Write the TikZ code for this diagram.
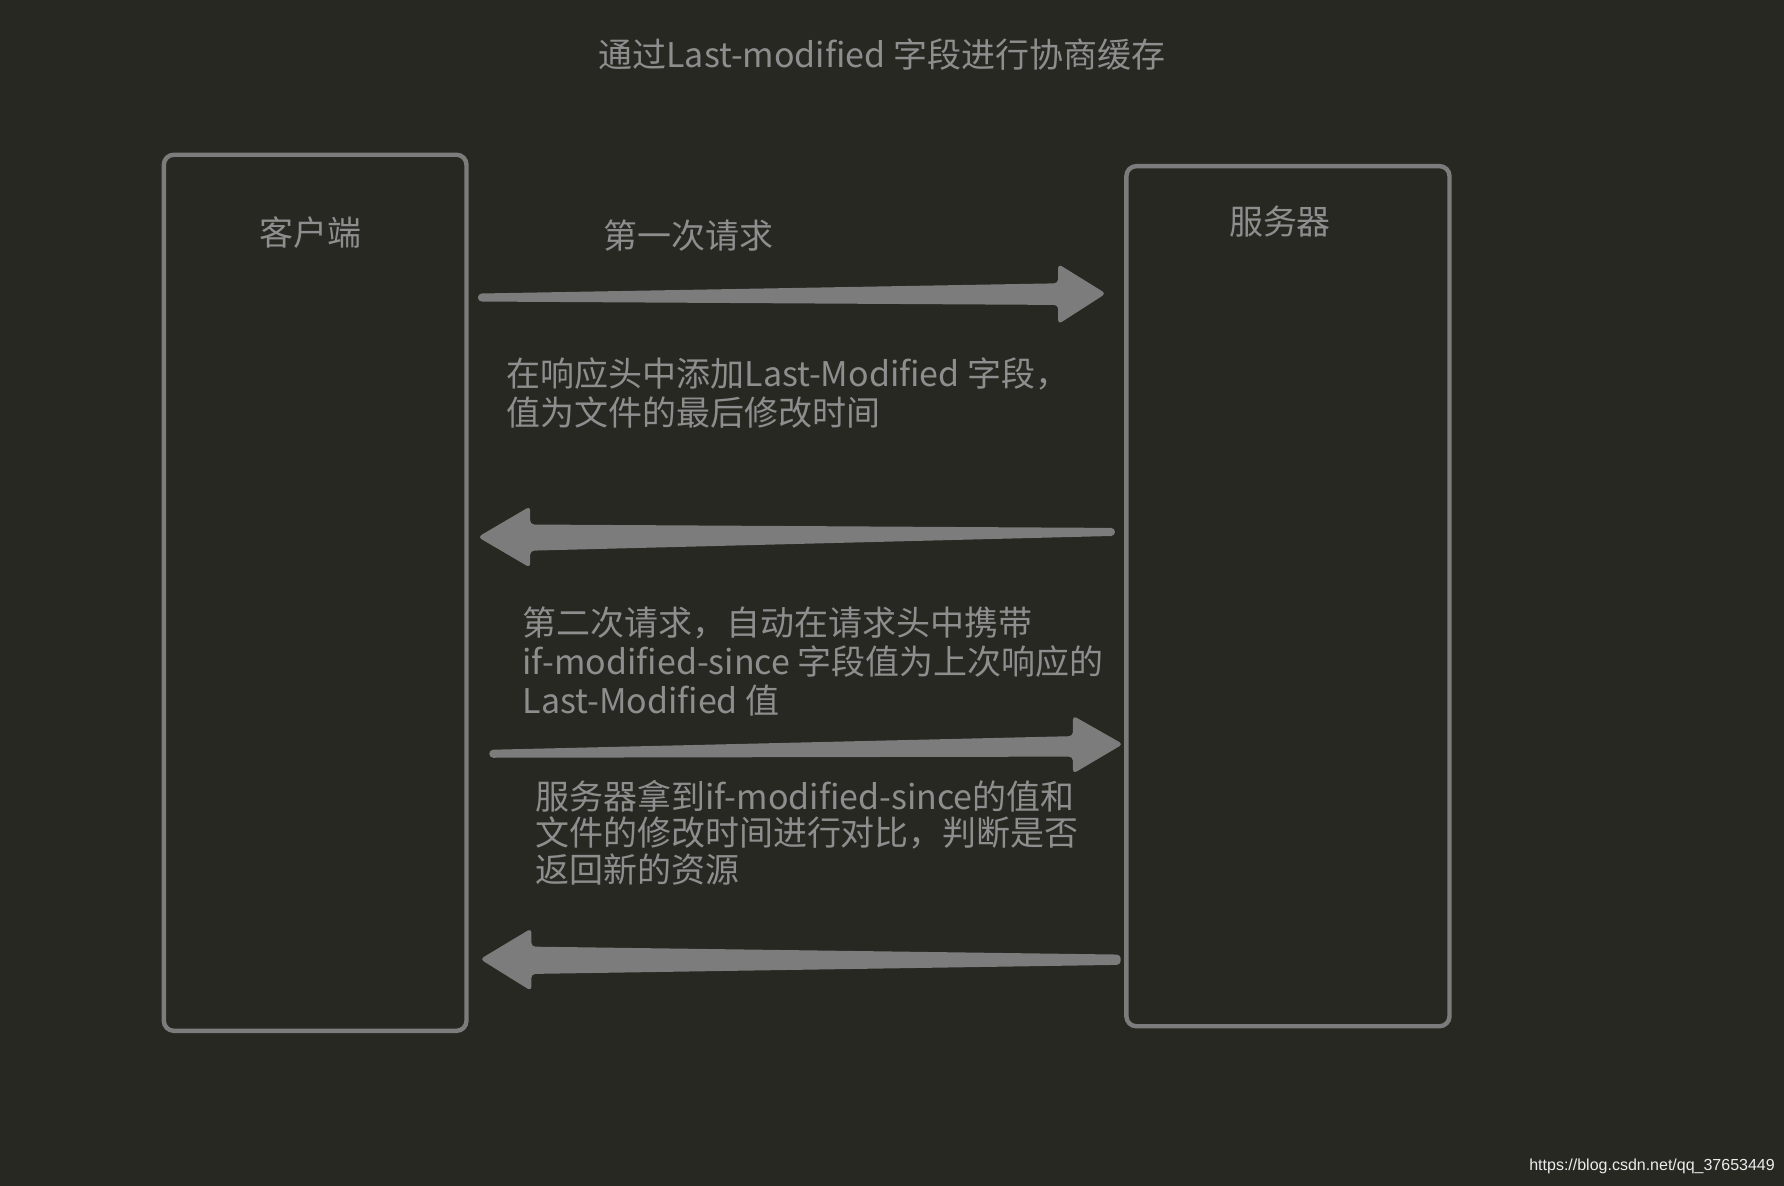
\documentclass[tikz,border=0pt]{standalone}
\usepackage{fontspec}
\setmainfont{Noto Sans CJK SC}
\newfontfamily\wm{Liberation Sans}
\definecolor{bg}{HTML}{272822}
\definecolor{ln}{HTML}{7C7C7C}
\definecolor{tx}{HTML}{8E8E8E}
\begin{document}
\begin{tikzpicture}[x=0.02cm,y=-0.02cm,
  box/.style={draw=ln,line width=4\pgflinewidth*1.8,rounded corners=4},
  lbl/.style={text=tx,font=\fontsize{17}{20}\selectfont,inner sep=0},
  para/.style={lbl,align=left,anchor=north west,font=\fontsize{17}{19.5}\selectfont}]
\fill[bg] (0,0) rectangle (1568,1042);
\useasboundingbox (0,0) rectangle (1568,1042);
\node[lbl] (title) at (775,48) {通过Last-modified 字段进行协商缓存};
\draw[ln,line width=2.2pt,rounded corners=5] (144,136) rectangle (410,906);
\draw[ln,line width=2.2pt,rounded corners=5] (990,146) rectangle (1274,902);
\node[lbl] (c) at (273,204) {客户端};
\node[lbl] (s) at (1125,195) {服务器};
\node[lbl] (q1) at (605,207) {第一次请求};
% arrow 1
\fill[ln,rounded corners=2] (420,258) -- (930,249) -- (930,232) -- (972,258) -- (930,285) -- (930,268) -- (420,265) -- cycle;
\node[para] (t2) at (445,314) {在响应头中添加Last-Modified 字段，\\值为文件的最后修改时间};
% arrow 2
\fill[ln,rounded corners=2] (980,464) -- (466,461) -- (466,445) -- (420,472) -- (466,499) -- (466,484) -- (980,471) -- cycle;
\node[para] (t3) at (459,533) {第二次请求，自动在请求头中携带\\if-modified-since 字段值为上次响应的\\Last-Modified 值};
% arrow 3
\fill[ln,rounded corners=2] (430,659) -- (943,647) -- (943,629) -- (987,654) -- (943,680) -- (943,665) -- (430,666) -- cycle;
\node[para,font=\fontsize{17}{18.5}\selectfont] (t4) at (470,685) {服务器拿到if-modified-since的值和\\文件的修改时间进行对比，判断是否\\返回新的资源};
% arrow 4
\fill[ln,rounded corners=2] (985,839) -- (467,832) -- (467,816) -- (422,843) -- (467,871) -- (467,856) -- (985,848) -- cycle;
\node[text=white!85!gray,font=\wm\fontsize{8}{9}\selectfont,inner sep=0] (w) at (1452,1025) {https://blog.csdn.net/qq\_37653449};
\end{tikzpicture}
\end{document}
